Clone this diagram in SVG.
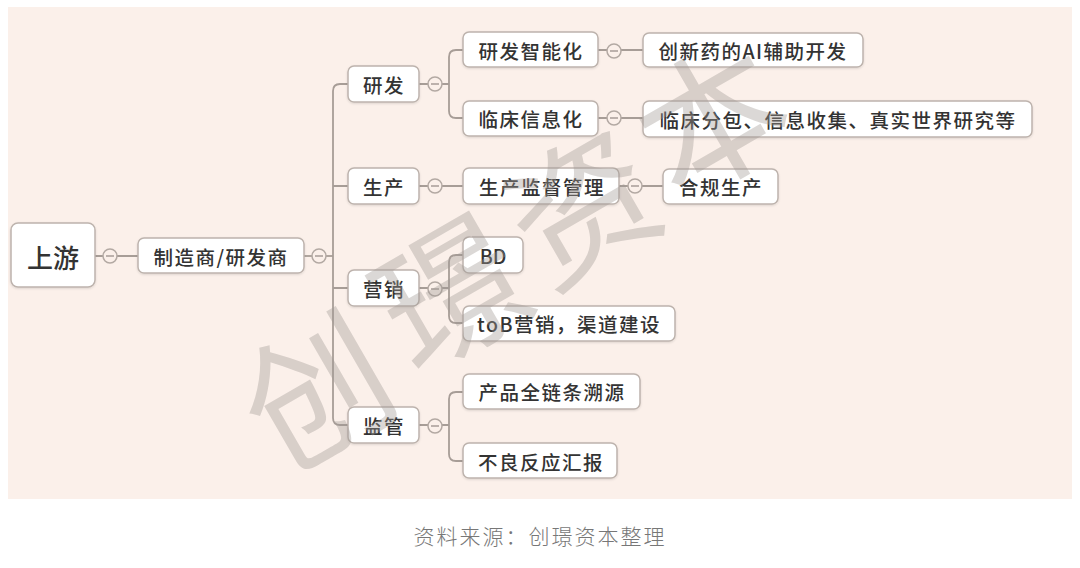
<svg xmlns="http://www.w3.org/2000/svg" width="1080" height="568" viewBox="0 0 1080 568">
<defs>
<style>
.bg{fill:#fbf0ea}
.box{fill:#ffffff;stroke:#bdb3ad;stroke-width:1.5}
.t{font-family:"Noto Sans CJK SC","Noto Sans",sans-serif;font-size:19.5px;letter-spacing:1.5px;fill:#333;text-anchor:middle;dominant-baseline:central;font-weight:500}
.big{font-size:26px;letter-spacing:0}
.ln{fill:none;stroke:#a79d97;stroke-width:1.8}
.cc{fill:#fbf0ea;stroke:#b3a9a3;stroke-width:1.5}
.mn{stroke:#a79d97;stroke-width:1.5}
.wm{font-family:"Noto Sans CJK SC",sans-serif;font-weight:400;font-size:145px;fill:#a19a95;opacity:0.38;text-anchor:middle;dominant-baseline:central}
.cap{font-family:"Noto Sans CJK SC","Noto Sans",sans-serif;font-size:21px;letter-spacing:2px;fill:#777;text-anchor:middle;font-weight:300}
</style>
<filter id="sh" x="-10%" y="-20%" width="120%" height="150%"><feDropShadow dx="0" dy="1" stdDeviation="1" flood-color="#000" flood-opacity="0.12"/></filter>
</defs>
<rect class="bg" x="8" y="7" width="1064" height="492"/>
<g id="connectors">
<path class="ln" d="M95 256H138"/>
<path class="ln" d="M304 256H333"/>
<path class="ln" d="M348 84H340Q333 84 333 91V418Q333 425 340 425H348"/>
<path class="ln" d="M333 186H348M333 288H348"/>
<path class="ln" d="M419 84H449M463 50H456Q449 50 449 57V111Q449 118 456 118H463"/>
<path class="ln" d="M419 186H463"/>
<path class="ln" d="M419 288H449M463 255H456Q449 255 449 262V316Q449 323 456 323H463"/>
<path class="ln" d="M419 425H449M463 392H456Q449 392 449 399V454Q449 461 456 461H463"/>
<path class="ln" d="M598 50H643M598 118H643M619 186H663"/>
<g>
<circle class="cc" cx="110" cy="256" r="7"/><path class="mn" d="M106 256H114"/>
<circle class="cc" cx="319" cy="256" r="7"/><path class="mn" d="M315 256H323"/>
<circle class="cc" cx="435" cy="84" r="7"/><path class="mn" d="M431 84H439"/>
<circle class="cc" cx="435" cy="186" r="7"/><path class="mn" d="M431 186H439"/>
<circle class="cc" cx="435" cy="289" r="7"/><path class="mn" d="M431 289H439"/>
<circle class="cc" cx="435" cy="426" r="7"/><path class="mn" d="M431 426H439"/>
<circle class="cc" cx="614" cy="51" r="7"/><path class="mn" d="M610 51H618"/>
<circle class="cc" cx="614" cy="118" r="7"/><path class="mn" d="M610 118H618"/>
<circle class="cc" cx="635" cy="186" r="7"/><path class="mn" d="M631 186H639"/>
</g>
</g>
<g id="n-shangyou"><rect class="box" filter="url(#sh)" x="11" y="223" width="84" height="64" rx="7"/><text class="t big" x="53" y="256">上游</text></g>
<g id="n-zhizao"><rect class="box" filter="url(#sh)" x="138" y="238" width="166" height="35" rx="6"/><text class="t" x="221" y="256">制造商/研发商</text></g>
<g id="n-yanfa"><rect class="box" filter="url(#sh)" x="348" y="66" width="71" height="36" rx="6"/><text class="t" x="384" y="84">研发</text></g>
<g id="n-shengchan"><rect class="box" filter="url(#sh)" x="348" y="168" width="71" height="36" rx="6"/><text class="t" x="384" y="186">生产</text></g>
<g id="n-yingxiao"><rect class="box" filter="url(#sh)" x="348" y="270" width="71" height="36" rx="6"/><text class="t" x="384" y="288">营销</text></g>
<g id="n-jianguan"><rect class="box" filter="url(#sh)" x="348" y="407" width="71" height="36" rx="6"/><text class="t" x="384" y="425">监管</text></g>
<g id="n-znh"><rect class="box" filter="url(#sh)" x="463" y="32" width="135" height="35" rx="6"/><text class="t" x="531" y="50">研发智能化</text></g>
<g id="n-lcxxh"><rect class="box" filter="url(#sh)" x="463" y="101" width="135" height="35" rx="6"/><text class="t" x="531" y="118">临床信息化</text></g>
<g id="n-scjd"><rect class="box" filter="url(#sh)" x="463" y="168" width="156" height="36" rx="6"/><text class="t" x="542" y="186">生产监督管理</text></g>
<g id="n-bd"><rect class="box" filter="url(#sh)" x="463" y="237" width="60" height="36" rx="6"/><text class="t" x="493" y="255" style="letter-spacing:0">BD</text></g>
<g id="n-tob"><rect class="box" filter="url(#sh)" x="463" y="306" width="212" height="35" rx="6"/><text class="t" x="569" y="323">toB营销，渠道建设</text></g>
<g id="n-cpqlt"><rect class="box" filter="url(#sh)" x="463" y="374" width="177" height="35" rx="6"/><text class="t" x="552" y="391">产品全链条溯源</text></g>
<g id="n-blfy"><rect class="box" filter="url(#sh)" x="463" y="443" width="154" height="35" rx="6"/><text class="t" x="541" y="461">不良反应汇报</text></g>
<g id="n-ai"><rect class="box" filter="url(#sh)" x="643" y="33" width="220" height="34" rx="6"/><text class="t" x="753" y="50">创新药的AI辅助开发</text></g>
<g id="n-lcfb"><rect class="box" filter="url(#sh)" x="643" y="101" width="389" height="36" rx="6"/><text class="t" x="838" y="119">临床分包、信息收集、真实世界研究等</text></g>
<g id="n-hgsc"><rect class="box" filter="url(#sh)" x="663" y="169" width="115" height="35" rx="6"/><text class="t" x="721" y="186">合规生产</text></g>
<g id="watermark">
<text class="wm" transform="translate(312 385) rotate(-30)">创</text>
<text class="wm" transform="translate(446 285) rotate(-30)">璟</text>
<text class="wm" transform="translate(578 200) rotate(-30)">资</text>
<text class="wm" transform="translate(708 112) rotate(-30)">本</text>
</g>
<text class="cap" x="540" y="544">资料来源：创璟资本整理</text>
</svg>
